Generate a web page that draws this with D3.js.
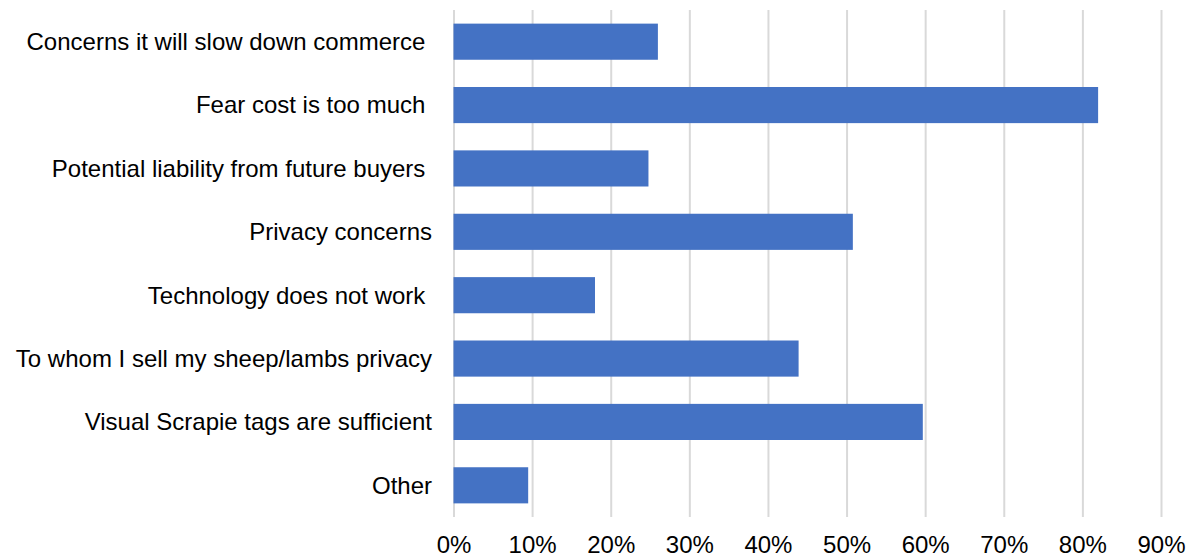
<html><head>
  <script src="https://d3js.org/d3.v7.min.js"></script>
  <style>
  body { margin: 0; background: #fff; }
  #chart text {
    font-family: "Liberation Sans", Arial, sans-serif;
    font-size: 24px;
    fill: #000;
    white-space: pre;
  }
  .gridlines .domain { stroke: none; }
  .gridlines line { stroke: #d9d9d9; stroke-width: 2; }
  </style>
</head>
<body>
  <svg id="chart" width="1191" height="557"></svg>

  <script>

  // survey answers (some labels keep the trailing space seen in the original)
  const reasons = [
    "Concerns it will slow down commerce ",
    "Fear cost is too much ",
    "Potential liability from future buyers ",
    "Privacy concerns",
    "Technology does not work ",
    "To whom I sell my sheep/lambs privacy",
    "Visual Scrapie tags are sufficient",
    "Other"
  ];
  const shares = [0.26, 0.82, 0.248, 0.508, 0.18, 0.439, 0.597, 0.095];
  const tickValues = [0, 0.1, 0.2, 0.3, 0.4, 0.5, 0.6, 0.7, 0.8, 0.9];

  let svg = d3.select("#chart");

  let margin = { top: 10, left: 453.5, right: 30, bottom: 40 };
  let plotRight = 1161;
  let plotBottom = 517;

  const xScale = d3.scaleLinear().domain([0, 0.9]).range([margin.left, plotRight]);
  const yScale = d3.scaleBand().domain(reasons).range([margin.top, plotBottom])
    .paddingInner(0.43).paddingOuter(0.215);

  // vertical gridlines
  let grid = d3.axisBottom(xScale).tickValues(tickValues)
    .tickSize(-(plotBottom - margin.top)).tickFormat("");
  svg.append("g")
    .attr("class", "gridlines")
    .attr("transform", "translate(0," + plotBottom + ")")
    .call(grid);

  // bars
  svg.append("g")
    .selectAll("rect")
    .data(reasons)
    .join("rect")
      .attr("x", xScale(0))
      .attr("y", d => yScale(d))
      .attr("width", (d, i) => xScale(shares[i]) - xScale(0))
      .attr("height", yScale.bandwidth())
      .attr("fill", "#4472c4");

  // bottom tick labels
  let bottomAxis = d3.axisBottom(xScale).tickValues(tickValues)
    .tickSize(0).tickPadding(0).tickFormat(d3.format(".0%"));
  let xg = svg.append("g")
    .attr("transform", "translate(0," + plotBottom + ")")
    .call(bottomAxis);
  xg.select(".domain").remove();
  xg.selectAll("text").attr("y", 36).attr("dy", null);

  // category labels
  let leftAxis = d3.axisLeft(yScale).tickSize(0).tickPadding(0);
  let yg = svg.append("g")
    .attr("transform", "translate(432,0)")
    .call(leftAxis);
  yg.select(".domain").remove();
  yg.selectAll("text").attr("x", 0).attr("dy", "0.35em");

  </script>
</body>
</html>
